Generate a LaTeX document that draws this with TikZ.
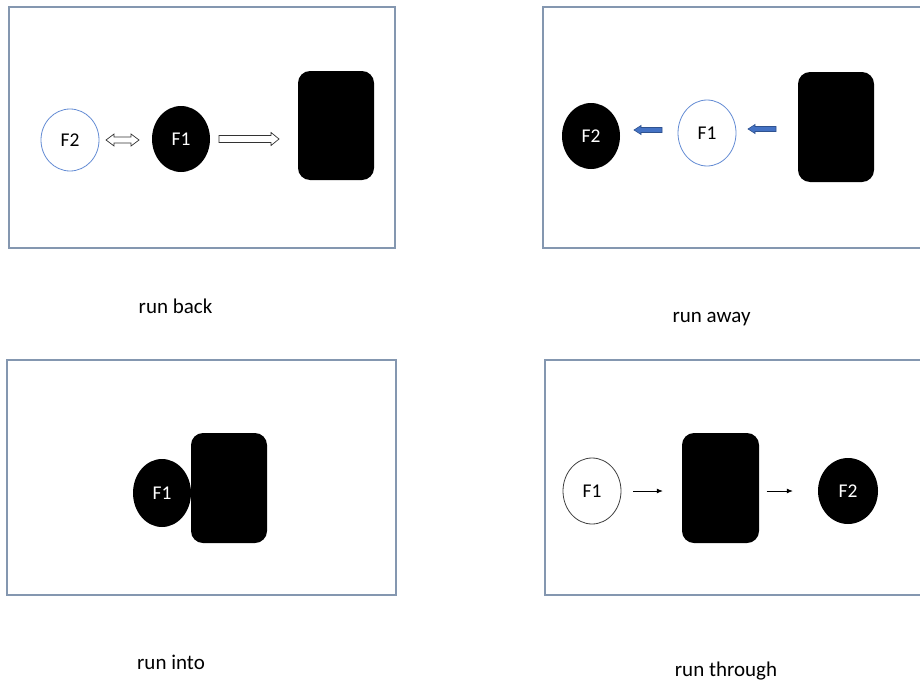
\documentclass[tikz,border=0pt]{standalone}
\usepackage{fontspec}
\setmainfont{Carlito}
\usetikzlibrary{shapes.geometric,arrows.meta}
\definecolor{framec}{RGB}{132,151,176}
\definecolor{bluec}{RGB}{100,140,212}
\definecolor{arrfill}{RGB}{68,114,196}
\definecolor{arrdraw}{RGB}{47,82,143}
\definecolor{greyc}{RGB}{64,64,64}
\tikzset{
  frame/.style={draw=framec, line width=1.2pt},
  blk/.style={ellipse, fill=black, text=white, inner sep=0pt, font=\fontsize{19.5}{22}\selectfont},
  bluering/.style={ellipse, draw=bluec, line width=0.8pt, fill=white, inner sep=0pt, font=\fontsize{19.5}{22}\selectfont},
  greyring/.style={ellipse, draw=greyc, line width=0.8pt, fill=white, inner sep=0pt, font=\fontsize{19.5}{22}\selectfont},
  wall/.style={rectangle, fill=black, rounded corners=12pt, inner sep=0pt},
  caption/.style={anchor=base, inner sep=0pt, font=\fontsize{21}{25}\selectfont},
  hollowarr/.style={draw=black!80, fill=white, line width=0.7pt},
  bluearr/.style={draw=arrdraw, fill=arrfill, line width=0.6pt},
  thinarr/.style={draw=black, line width=0.8pt, -{Latex[length=6pt,width=5pt]}},
  pics/blockarrow/.style n args={4}{code={
    \path[pic actions] (0,#2) -- ({#1-#4},#2) -- ({#1-#4},#3) -- (#1,0) -- ({#1-#4},-#3) -- ({#1-#4},-#2) -- (0,-#2) -- cycle;}},
  pics/dblarrow/.style n args={4}{code={
    \path[pic actions] (0,0) -- (#4,#3) -- (#4,#2) -- ({#1-#4},#2) -- ({#1-#4},#3) -- (#1,0) -- ({#1-#4},-#3) -- ({#1-#4},-#2) -- (#4,-#2) -- (#4,-#3) -- cycle;}},
}
\begin{document}
\begin{tikzpicture}[x=1pt,y=-1pt]
\useasboundingbox[fill=white] (0,0) rectangle (920,685);
\clip (0,0) rectangle (920,685);
% frames
\draw[frame] (9,7) rectangle (395,248);
\draw[frame] (543,7) rectangle (945,248);
\draw[frame] (7,360) rectangle (396,595);
\draw[frame] (545,360) rectangle (945,595);
% panel 1: run back
\node[bluering, minimum width=58pt, minimum height=62pt] (p1f2) at (70,140) {F2};
\node[blk, minimum width=58pt, minimum height=66pt] (p1f1) at (181,139) {F1};
\node[wall, minimum width=76pt, minimum height=109pt] (p1box) at (336,125.5) {};
\pic[hollowarr] at (106,140) {dblarrow={33}{3}{6}{8}};
\pic[hollowarr] at (219,139) {blockarrow={60}{3.5}{6.5}{8}};
\node[caption] (c1) at (175.5,313) {run back};
% panel 2: run away
\node[blk, minimum width=58pt, minimum height=66pt] (p2f2) at (591,136) {F2};
\node[bluering, minimum width=58pt, minimum height=66pt] (p2f1) at (707,133) {F1};
\node[wall, minimum width=76pt, minimum height=110pt] (p2box) at (836,127) {};
\pic[bluearr, rotate=180] at (662,130) {blockarrow={28}{2.5}{4.5}{7}};
\pic[bluearr, rotate=180] at (776,129) {blockarrow={28}{2.5}{4.5}{7}};
\node[caption] (c2) at (711.5,322) {run away};
% panel 3: run into
\node[blk, minimum width=58pt, minimum height=68pt] (p3f1) at (162,493) {F1};
\node[wall, minimum width=76pt, minimum height=110pt] (p3box) at (229,488) {};
\node[caption] (c3) at (171,669) {run into};
% panel 4: run through
\node[greyring, minimum width=58pt, minimum height=66pt] (p4f1) at (592,491) {F1};
\node[wall, minimum width=77pt, minimum height=110pt] (p4box) at (720.5,488) {};
\node[blk, minimum width=60pt, minimum height=66pt] (p4f2) at (848,491) {F2};
\draw[thinarr, shorten <=12pt, shorten >=19pt] (p4f1.east) -- (p4f1.east -| p4box.west);
\draw[thinarr, shorten <=7.5pt, shorten >=25pt] (p4box.east |- p4f2.west) -- (p4f2.west);
\node[caption] (c4) at (726,676) {run through};
\end{tikzpicture}
\end{document}
